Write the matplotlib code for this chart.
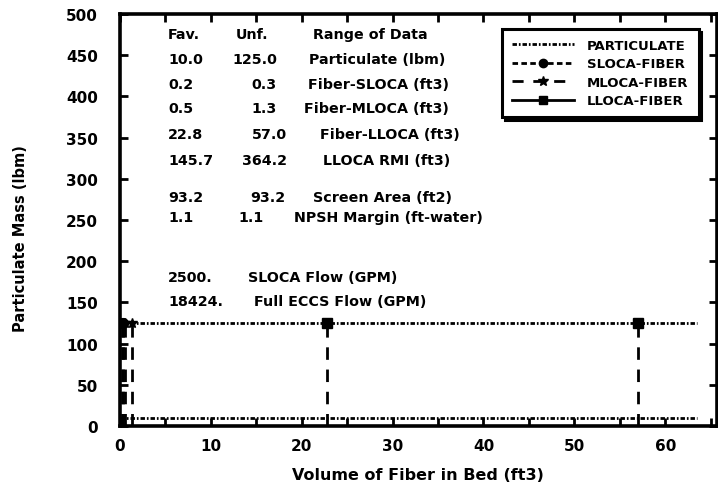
import matplotlib
matplotlib.use("Agg")
import matplotlib.pyplot as plt
from matplotlib.lines import Line2D

# data
fav = [10.0, 0.2, 0.5, 22.8, 145.7, 93.2, 1.1]
unf = [125.0, 0.3, 1.3, 57.0, 364.2, 93.2, 1.1]
range_labels = ["Particulate (lbm)", "Fiber-SLOCA (ft3)", "Fiber-MLOCA (ft3)",
                "Fiber-LLOCA (ft3)", "LLOCA RMI (ft3)", "Screen Area (ft2)",
                "NPSH Margin (ft-water)"]
flow_values = ["2500.", "18424."]
flow_labels = ["SLOCA Flow (GPM)", "Full ECCS Flow (GPM)"]
particulate_x = [0.0, 63.5]
x_ticks = [0, 10, 20, 30, 40, 50, 60]
y_ticks = [0, 50, 100, 150, 200, 250, 300, 350, 400, 450, 500]

# text layout (data coords)
row_y = [445.3, 414.9, 385.4, 354.1, 322.5, 278.4, 254.1]
col2_x = [12.4, 14.5, 14.5, 14.5, 13.4, 14.3, 13.0]
col3_x = [20.8, 20.7, 20.3, 22.0, 22.3, 21.2, 19.2]
flow_y = [181.1, 152.3]
flow_x = [14.1, 14.8]

plt.rcParams["font.family"] = "DejaVu Sans"
plt.rcParams["font.weight"] = "bold"

fig = plt.figure(figsize=(7.18, 4.89), dpi=100)
ax = fig.add_axes([120 / 718, 1 - 427 / 489, 597 / 718, 412 / 489])

part_style = (0, (1.6, 0.7, 0.6, 0.7))
dash_style = (0, (4.5, 3.5))

# particulate horizontal lines
for yv in (fav[0], unf[0]):
    ax.plot(particulate_x, [yv, yv], color="black", lw=2.0, linestyle=part_style)

# fiber vertical lines
fiber_markers = ["o", "*", "s"]
for i, mk in zip([1, 2, 3], fiber_markers):
    for xv in (fav[i], unf[i]):
        ax.plot([xv, xv], [0, unf[0]], color="black", lw=2.0, linestyle=dash_style)
        ax.plot([xv], [unf[0]], marker=mk, color="black", markersize=7, linestyle="none")

ax.set_xlim(0, 65.7)
ax.set_ylim(0, 500)
ax.set_xticks(x_ticks)
ax.set_xticks(range(0, 66, 5), minor=True)
ax.set_yticks(y_ticks)
ax.tick_params(axis="both", which="both", direction="in", top=True, right=True,
               width=2, labelsize=11)
ax.tick_params(axis="y", which="major", length=6, pad=16)
ax.tick_params(axis="x", which="minor", length=6)
ax.tick_params(axis="x", which="major", length=6, pad=9)
for t in ax.get_xticklabels() + ax.get_yticklabels():
    t.set_fontweight("bold")
for s in ax.spines.values():
    s.set_linewidth(2.6)

ax.set_xlabel("Volume of Fiber in Bed (ft3)", fontsize=11.5, fontweight="bold")
ax.xaxis.set_label_coords((418 - 120) / 597, -(476 - 427) / 412)
ax.xaxis.label.set_va("center")
ax.set_ylabel("Particulate Mass (lbm)", fontsize=10.5, fontweight="bold",
              family=["Liberation Sans Narrow", "DejaVu Sans"])
ax.yaxis.set_label_coords((28 - 120) / 597, (427 - 239) / 412)

# data table
fs = 10.3
ax.text(5.3, 475.7, "Fav.", fontsize=fs, va="center")
ax.text(12.7, 475.7, "Unf.", fontsize=fs, va="center")
ax.text(21.2, 475.7, "Range of Data", fontsize=fs, va="center")
for i in range(len(fav)):
    ax.text(5.3, row_y[i], f"{fav[i]:.1f}", fontsize=fs, va="center")
    ax.text(col2_x[i], row_y[i], f"{unf[i]:.1f}", fontsize=fs, va="center")
    ax.text(col3_x[i], row_y[i], range_labels[i], fontsize=fs, va="center")
for i in range(len(flow_values)):
    ax.text(5.3, flow_y[i], flow_values[i], fontsize=fs, va="center")
    ax.text(flow_x[i], flow_y[i], flow_labels[i], fontsize=fs, va="center")

handles = [
    Line2D([], [], color="black", lw=2, linestyle=part_style),
    Line2D([], [], color="black", lw=2, linestyle=(0, (2, 1.2)), marker="o", markersize=6),
    Line2D([], [], color="black", lw=2, linestyle=(0, (4, 3.5)), marker="*", markersize=7),
    Line2D([], [], color="black", lw=2, linestyle="-", marker="s", markersize=6),
]
leg = ax.legend(handles, ["PARTICULATE", "SLOCA-FIBER", "MLOCA-FIBER", "LLOCA-FIBER"],
                loc="upper left", bbox_to_anchor=(0.64, 0.964), borderaxespad=0,
                fontsize=9.5, handlelength=4.7, handletextpad=1.0, fancybox=False,
                framealpha=1, edgecolor="black", labelspacing=0.42, borderpad=0.75,
                shadow={"color": "black", "alpha": 1.0})
leg.get_frame().set_linewidth(2.2)
for t in leg.get_texts():
    t.set_fontweight("bold")

fig.savefig("out.png", dpi=100)
